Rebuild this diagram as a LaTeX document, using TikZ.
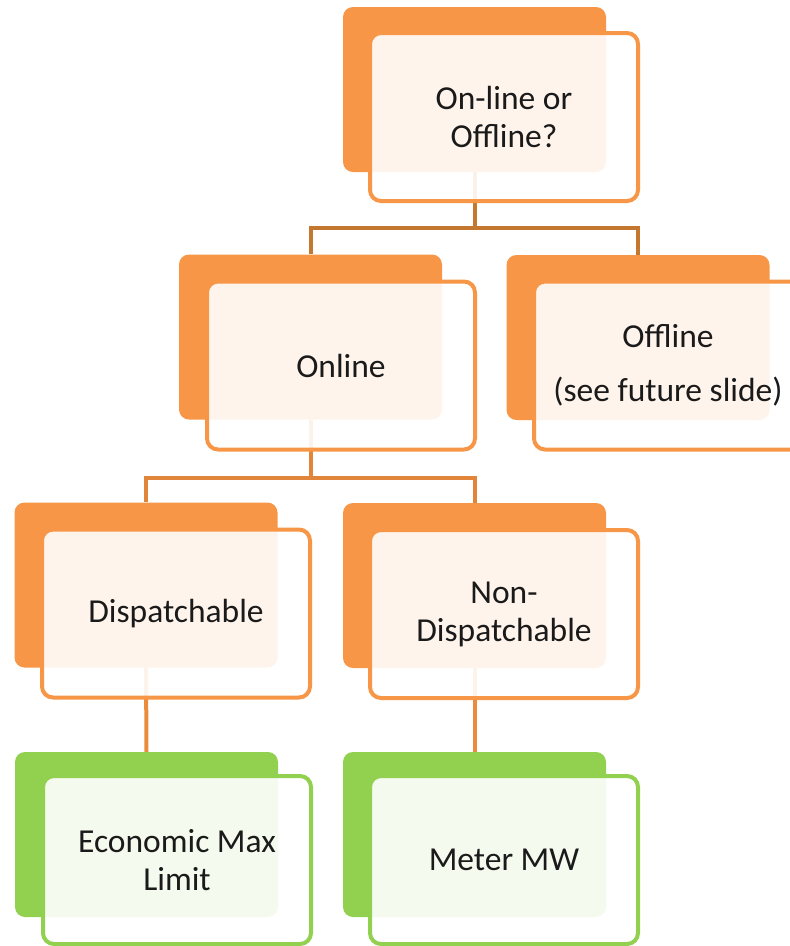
\documentclass[tikz,border=0pt]{standalone}
\usepackage{fontspec}
\setmainfont{Carlito}
\definecolor{accent}{HTML}{F79646}
\definecolor{leaf}{HTML}{92D050}
\definecolor{linkA}{HTML}{C4782F}
\definecolor{linkB}{HTML}{E0853A}
\definecolor{linkC}{HTML}{EA8C3C}
\definecolor{ink}{HTML}{1A1A1A}
\tikzset{
  backbox/.style={fill=#1, draw=none, rounded corners=10pt,
    minimum width=263pt, minimum height=165pt, inner sep=0pt},
  frontbox/.style={fill=white, fill opacity=0.9, text opacity=1, draw=#1,
    draw opacity=1, line width=4pt, rounded corners=11pt,
    minimum width=268pt, minimum height=168pt, inner sep=0pt,
    align=center, text=ink, font=\fontsize{33.5}{38}\selectfont},
  link/.style={draw=#1, line width=4pt},
}
\begin{document}
\begin{tikzpicture}[x=1pt,y=-1pt]
\useasboundingbox (0,0) rectangle (790,946);

% back panels
\node[backbox=accent] (topb) at (474.5,89.5) {};
\node[backbox=accent] (onb)  at (310.5,337) {};
\node[backbox=accent] (offb) at (638,337.5) {};
\node[backbox=accent] (disb) at (146,585) {};
\node[backbox=accent] (ndb)  at (474.5,585.5) {};
\node[backbox=leaf]   (ecob) at (146.5,834.5) {};
\node[backbox=leaf]   (metb) at (474.5,834.5) {};

% junction points of the tree
\coordinate (j1) at (474.5,228);
\coordinate (j2) at (310.5,478);

% connectors
\draw[link=linkA] (topb.south) -- (j1) -| (onb.north);
\draw[link=linkA] (j1) -| (offb.north);
\draw[link=linkB] (onb.south) -- (j2) -| (disb.north);
\draw[link=linkB] (j2) -| (ndb.north);
\draw[link=linkC] (disb.south) -- (ecob.north);
\draw[link=linkC] (ndb.south) -- (metb.north);

% front cards with labels
\node[frontbox=accent] (top) at (504,117) {On-line or\\Offline?};
\node[frontbox=accent] (on)  at (341,365.5) {Online};
\node[frontbox=accent] (off) at (668,365.5) {Offline\\[16pt](see future slide)};
\node[frontbox=accent] (dis) at (176,613.5) {Dispatchable};
\node[frontbox=accent] (nd)  at (504,614) {Non-\\Dispatchable};
\node[frontbox=leaf]   (eco) at (177,860) {Economic Max\\Limit};
\node[frontbox=leaf]   (met) at (504,860) {Meter MW};
\end{tikzpicture}
\end{document}
